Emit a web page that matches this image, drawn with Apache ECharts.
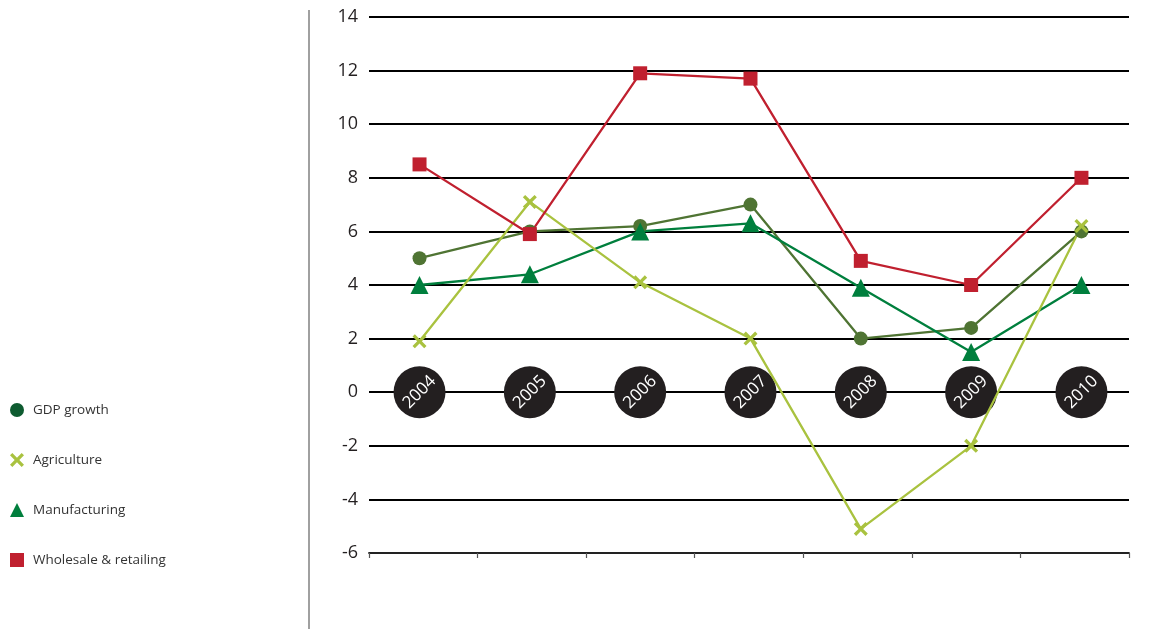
<!DOCTYPE html>
<html>
<head>
<meta charset="utf-8">
<script src="https://cdn.jsdelivr.net/npm/echarts@6/dist/echarts.min.js"></script>
<style>
  html, body { margin: 0; padding: 0; background: #fff; }
  #chart { width: 1156px; height: 629px; }
</style>
</head>
<body>
<div id="chart"></div>
<script>
// Annual growth rates (%) by sector
const years = ['2004', '2005', '2006', '2007', '2008', '2009', '2010'];
const gdpGrowth = [5.0, 6.0, 6.2, 7.0, 2.0, 2.4, 6.0];
const agriculture = [1.9, 7.1, 4.1, 2.0, -5.1, -2.0, 6.2];
const manufacturing = [4.0, 4.4, 6.0, 6.3, 3.9, 1.5, 4.0];
const wholesale = [8.5, 5.9, 11.9, 11.7, 4.9, 4.0, 8.0];
const yTicks = { min: -6, max: 14, step: 2 };

const FONT = '"Open Sans", "Noto Sans", sans-serif';
const crossPath = 'path://M2,0 L6,4 L10,0 L12,2 L8,6 L12,10 L10,12 L6,8 L2,12 L0,10 L4,6 L0,2 Z';

// point positions use a hidden value axis indexed by year position
const pairs = arr => arr.map((v, i) => [i, v]);

const chart = echarts.init(document.getElementById('chart'), null, { renderer: 'canvas' });

function lineSeries(name, data, color, symbol, size) {
  return {
    name, type: 'line', xAxisIndex: 1, data: pairs(data),
    symbol, symbolSize: size, showSymbol: true,
    lineStyle: { color, width: 2.3 },
    itemStyle: { color, opacity: 1 },
    z: 3, animation: false
  };
}

chart.setOption({
  backgroundColor: '#ffffff',
  textStyle: { fontFamily: FONT },
  grid: { left: 369, right: 27, top: 17, bottom: 76 },
  legend: {
    orient: 'vertical', left: 5, top: 398, itemGap: 36,
    itemWidth: 14, itemHeight: 14,
    textStyle: { fontSize: 13.5, color: '#333', fontFamily: FONT, padding: [0, 0, 0, 4] },
    data: [
      { name: 'GDP growth', icon: 'circle', itemStyle: { color: '#0e5b30' } },
      { name: 'Agriculture', icon: crossPath, itemStyle: { color: '#a9c23f' } },
      { name: 'Manufacturing', icon: 'triangle', itemStyle: { color: '#007f3d' } },
      { name: 'Wholesale & retailing', icon: 'rect', itemStyle: { color: '#c0202f' } }
    ],
    selectedMode: false
  },
  xAxis: [
    {
      type: 'category', data: years, boundaryGap: true, position: 'bottom',
      axisLine: { show: true, onZero: false, lineStyle: { color: '#222', width: 1.8 } },
      axisTick: { show: true, inside: false, length: 5, lineStyle: { color: '#555', width: 1.2 } },
      axisLabel: { show: false },
      splitLine: { show: false }
    },
    {
      type: 'value', min: -0.458, max: 6.431, show: false,
      splitLine: { show: false }
    }
  ],
  yAxis: {
    type: 'value', min: yTicks.min, max: yTicks.max, interval: yTicks.step,
    axisLine: { show: false }, axisTick: { show: false },
    axisLabel: { fontSize: 18, color: '#231f20', margin: 11, fontFamily: FONT },
    splitLine: { show: true, lineStyle: { color: '#000', width: 1.8 } }
  },
  graphic: [
    {
      type: 'line', shape: { x1: 309, y1: 10, x2: 309, y2: 629 },
      style: { stroke: '#808080', lineWidth: 1.5 }, silent: true
    }
  ],
  series: [
    {
      name: 'years', type: 'scatter', xAxisIndex: 1,
      data: years.map((y, i) => ({ value: [i, 0], name: y })),
      symbol: 'circle', symbolSize: 52,
      itemStyle: { color: '#231f20', opacity: 1 },
      label: {
        show: true, position: 'inside', rotate: 45,
        formatter: p => p.name,
        color: '#ffffff', fontSize: 17, fontFamily: FONT
      },
      z: 2, animation: false, silent: true
    },
    lineSeries('GDP growth', gdpGrowth, '#4f7433', 'circle', 14),
    lineSeries('Manufacturing', manufacturing, '#007f3d', 'triangle', 18),
    lineSeries('Agriculture', agriculture, '#a9c23f', crossPath, 14),
    lineSeries('Wholesale & retailing', wholesale, '#c0202f', 'rect', 14)
  ]
});
</script>
</body>
</html>
